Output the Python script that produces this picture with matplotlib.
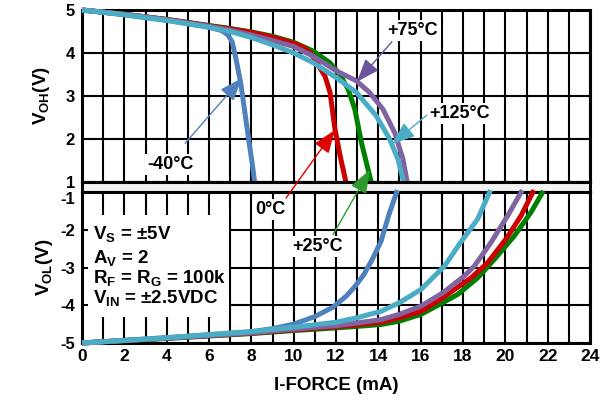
import matplotlib
matplotlib.use("Agg")
import matplotlib.pyplot as plt
from matplotlib.patches import Rectangle

plt.rcParams['font.family'] = ['Liberation Sans', 'DejaVu Sans']
plt.rcParams['font.weight'] = 'bold'
plt.rcParams['axes.unicode_minus'] = False
plt.rcParams['mathtext.fontset'] = 'custom'
plt.rcParams['mathtext.rm'] = 'Liberation Sans:bold'
plt.rcParams['mathtext.it'] = 'Liberation Sans:bold'
plt.rcParams['mathtext.bf'] = 'Liberation Sans:bold'

# ---------------- data ----------------
# VOH (top panel)
voh_m40_x = [0, 2, 4, 6, 6.6, 6.9, 7.1, 7.3, 7.5, 7.7, 7.9, 8.05, 8.17]
voh_m40_y = [5.0, 4.89, 4.76, 4.6, 4.52, 4.42, 4.25, 3.8, 3.3, 2.6, 1.9, 1.4, 0.93]
voh_0_x = [0, 1, 2, 3, 4, 5, 6, 7, 8, 9, 10, 10.5, 10.8, 11.1, 11.48, 11.72, 11.95, 12.19, 12.5]
voh_0_y = [5.0, 4.95, 4.9, 4.84, 4.78, 4.71, 4.63, 4.56, 4.48, 4.37, 4.23, 4.12, 4.0, 3.77, 3.46, 3.08, 2.23, 1.62, 0.93]
voh_25_x = [0, 1, 2, 3, 4, 5, 6, 7, 8, 9, 10, 10.94, 11.72, 12.19, 12.58, 12.89, 13.2, 13.47, 13.7]
voh_25_y = [5.0, 4.95, 4.9, 4.84, 4.78, 4.71, 4.64, 4.57, 4.49, 4.39, 4.25, 4.04, 3.77, 3.5, 3.15, 2.69, 1.92, 1.38, 0.93]
voh_75_x = [0, 1, 2, 3, 4, 5, 6, 7, 8, 9, 10, 10.94, 12.03, 12.97, 13.59, 14.22, 14.77, 15.16, 15.39]
voh_75_y = [5.0, 4.95, 4.9, 4.84, 4.77, 4.7, 4.62, 4.53, 4.42, 4.29, 4.15, 3.92, 3.58, 3.35, 3.08, 2.69, 2.15, 1.54, 0.93]
voh_125_x = [0, 1, 2, 3, 4, 5, 6, 7, 8, 9, 10, 10.94, 12.03, 12.97, 13.9, 14.53, 14.92, 15.23]
voh_125_y = [5.0, 4.95, 4.89, 4.82, 4.76, 4.68, 4.6, 4.5, 4.36, 4.19, 4.0, 3.77, 3.42, 3.08, 2.54, 2.0, 1.54, 0.93]

# VOL (bottom panel)
vol_m40_x = [0, 4, 8, 9, 10, 11, 11.86, 12.5, 12.9, 13.3, 13.7, 14.13, 14.5, 14.9]
vol_m40_y = [-5.0, -4.86, -4.7, -4.62, -4.5, -4.3, -4.05, -3.75, -3.5, -3.2, -2.8, -2.3, -1.6, -0.95]
vol_0_x = [0, 4, 8, 10, 12, 13, 14.13, 15, 16.02, 17.05, 18.39, 19.17, 20.04, 20.75, 21.35]
vol_0_y = [-5.0, -4.87, -4.74, -4.65, -4.57, -4.52, -4.45, -4.33, -4.16, -3.8, -3.27, -2.87, -2.24, -1.62, -0.95]
vol_25_x = [0, 4, 8, 10, 12, 13, 14.13, 15, 16.02, 17.05, 17.76, 18.7, 19.49, 20.43, 21.22, 21.8]
vol_25_y = [-5.0, -4.88, -4.75, -4.67, -4.6, -4.56, -4.51, -4.42, -4.24, -3.93, -3.71, -3.27, -2.78, -2.16, -1.53, -0.97]
vol_75_x = [0, 4, 8, 10, 12, 13, 14.13, 15, 16.02, 17.05, 18.07, 18.54, 19.33, 20.12, 20.8]
vol_75_y = [-5.0, -4.87, -4.73, -4.63, -4.54, -4.47, -4.38, -4.24, -4.02, -3.67, -3.22, -2.96, -2.33, -1.62, -0.95]
vol_125_x = [0, 4, 8, 10, 12, 13, 14.13, 15, 16.02, 17.13, 17.83, 18.7, 19.3]
vol_125_y = [-5.0, -4.86, -4.7, -4.58, -4.45, -4.33, -4.16, -3.93, -3.58, -2.96, -2.38, -1.71, -0.95]

colors = {'-40': '#4F81BD', '0': '#CC0000', '25': '#008000', '75': '#8064A2', '125': '#4BACC6'}

top_ticks = [1, 2, 3, 4, 5]
bot_ticks = [-5, -4, -3, -2, -1]
x_major = list(range(0, 25, 2))
x_minor = list(range(1, 25, 2))

cond_lines = [r"V$_\mathregular{S}$ = ±5V", r"A$_\mathregular{V}$ = 2",
              r"R$_\mathregular{F}$ = R$_\mathregular{G}$ = 100k", r"V$_\mathregular{IN}$ = ±2.5VDC"]

# ---------------- figure ----------------
W, H = 612, 400
fig = plt.figure(figsize=(W / 100, H / 100), dpi=100)


def rect(l, t, r, b):
    return [l / W, 1 - b / H, (r - l) / W, (b - t) / H]


ax_top = fig.add_axes(rect(82, 10, 590, 182))
ax_gap = fig.add_axes(rect(82, 182, 590, 192))
ax_bot = fig.add_axes(rect(82, 192, 590, 343))

frame_lw = 2.2
grid_lw = 1.5

for ax in (ax_top, ax_bot):
    ax.set_xlim(0, 24)
    ax.set_axisbelow(True)
    for s in ax.spines.values():
        s.set_linewidth(frame_lw)
    ax.tick_params(length=0, labelsize=12, pad=5)
    ax.set_xticks(x_major)
    ax.set_xticks(x_minor, minor=True)
    ax.tick_params(which='minor', length=0)
    ax.grid(True, which='both', color='black', linewidth=grid_lw)

ax_top.set_ylim(1, 5)
ax_top.set_yticks(top_ticks)
ax_top.set_yticklabels([str(v) for v in top_ticks], fontweight='bold')
ax_top.set_xticklabels([])
ax_bot.set_ylim(-5, -1)
ax_bot.set_yticks(bot_ticks)
ylabs = ax_bot.set_yticklabels([str(v) for v in bot_ticks], fontweight='bold')
ylabs[-1].set_va('top')
ax_bot.set_xticklabels([str(v) for v in x_major], fontweight='bold')
ax_bot.tick_params(axis='x', labelsize=12.5, pad=4)

ax_gap.set_facecolor('#f2f2f2')
ax_gap.set_xticks([])
ax_gap.set_yticks([])
for s in ax_gap.spines.values():
    s.set_linewidth(frame_lw)

lw = 3.6
series_top = [(voh_25_x, voh_25_y, '25'), (voh_0_x, voh_0_y, '0'), (voh_75_x, voh_75_y, '75'),
              (voh_m40_x, voh_m40_y, '-40'), (voh_125_x, voh_125_y, '125')]
series_bot = [(vol_25_x, vol_25_y, '25'), (vol_0_x, vol_0_y, '0'), (vol_75_x, vol_75_y, '75'),
              (vol_m40_x, vol_m40_y, '-40'), (vol_125_x, vol_125_y, '125')]
for xs, ys, k in series_top:
    ax_top.plot(xs, ys, color=colors[k], lw=lw, zorder=3, clip_on=False, solid_capstyle='butt')
for xs, ys, k in series_bot:
    ax_bot.plot(xs, ys, color=colors[k], lw=lw, zorder=3, clip_on=False, solid_capstyle='butt')

# condition text box
ax_bot.add_patch(Rectangle((0.28, -4.3), 6.65, 2.68, facecolor='white', edgecolor='none', zorder=1.5))
for i, t in enumerate(cond_lines):
    yy = [-2.1, -2.76, -3.27, -3.8][i]
    ax_bot.text(0.5, yy, t, fontsize=13.5, fontweight='bold', va='center', ha='left', zorder=4)

ax_top.set_ylabel(r"V$_\mathregular{OH}$(V)", fontsize=13.5, fontweight='bold', labelpad=10)
ax_bot.set_ylabel(r"V$_\mathregular{OL}$(V)", fontsize=13.5, fontweight='bold', labelpad=4)
ax_bot.set_xlabel("I-FORCE (mA)", fontsize=13.5, fontweight='bold', labelpad=10)

bbox = dict(facecolor='white', edgecolor='none', pad=1.5)
fs = 13
ap = lambda c: dict(arrowstyle='-|>,head_length=0.8,head_width=0.3', color=c, lw=1,
                    shrinkA=0, shrinkB=0, mutation_scale=18)

ax_top.text(4.16, 1.40, "-40°C", fontsize=fs, ha='center', va='center', bbox=bbox, zorder=5)
ax_top.annotate('', xy=(7.56, 3.42), xytext=(4.87, 1.9), arrowprops=ap(colors['-40']), zorder=5)
ax_top.text(15.64, 4.53, "+75°C", fontsize=fs, ha='center', va='center', bbox=bbox, zorder=5)
ax_top.annotate('', xy=(12.99, 3.33), xytext=(14.64, 4.26), arrowprops=ap('#6A55A0'), zorder=5)
ax_top.text(17.85, 2.6, "+125°C", fontsize=fs, ha='center', va='center', bbox=bbox, zorder=5)
ax_top.annotate('', xy=(14.64, 1.88), xytext=(16.3, 2.56), arrowprops=ap(colors['125']), zorder=5)

ax_bot.text(8.88, -1.47, "0°C", fontsize=fs, ha='center', va='center', bbox=bbox, zorder=5)
ax_bot.text(11.15, -2.45, "+25°C", fontsize=fs, ha='center', va='center', bbox=bbox, zorder=5)
ax_bot.annotate('', xy=(11.95, 2.21), xycoords=ax_top.transData, xytext=(9.64, -1.16),
                textcoords=ax_bot.transData, arrowprops=ap('#DD0000'), annotation_clip=False, zorder=5)
ax_bot.annotate('', xy=(13.6, 1.28), xycoords=ax_top.transData, xytext=(11.86, -2.13),
                textcoords=ax_bot.transData, arrowprops=ap('#2E9A2E'), annotation_clip=False, zorder=5)

fig.savefig("out.png", dpi=100)
